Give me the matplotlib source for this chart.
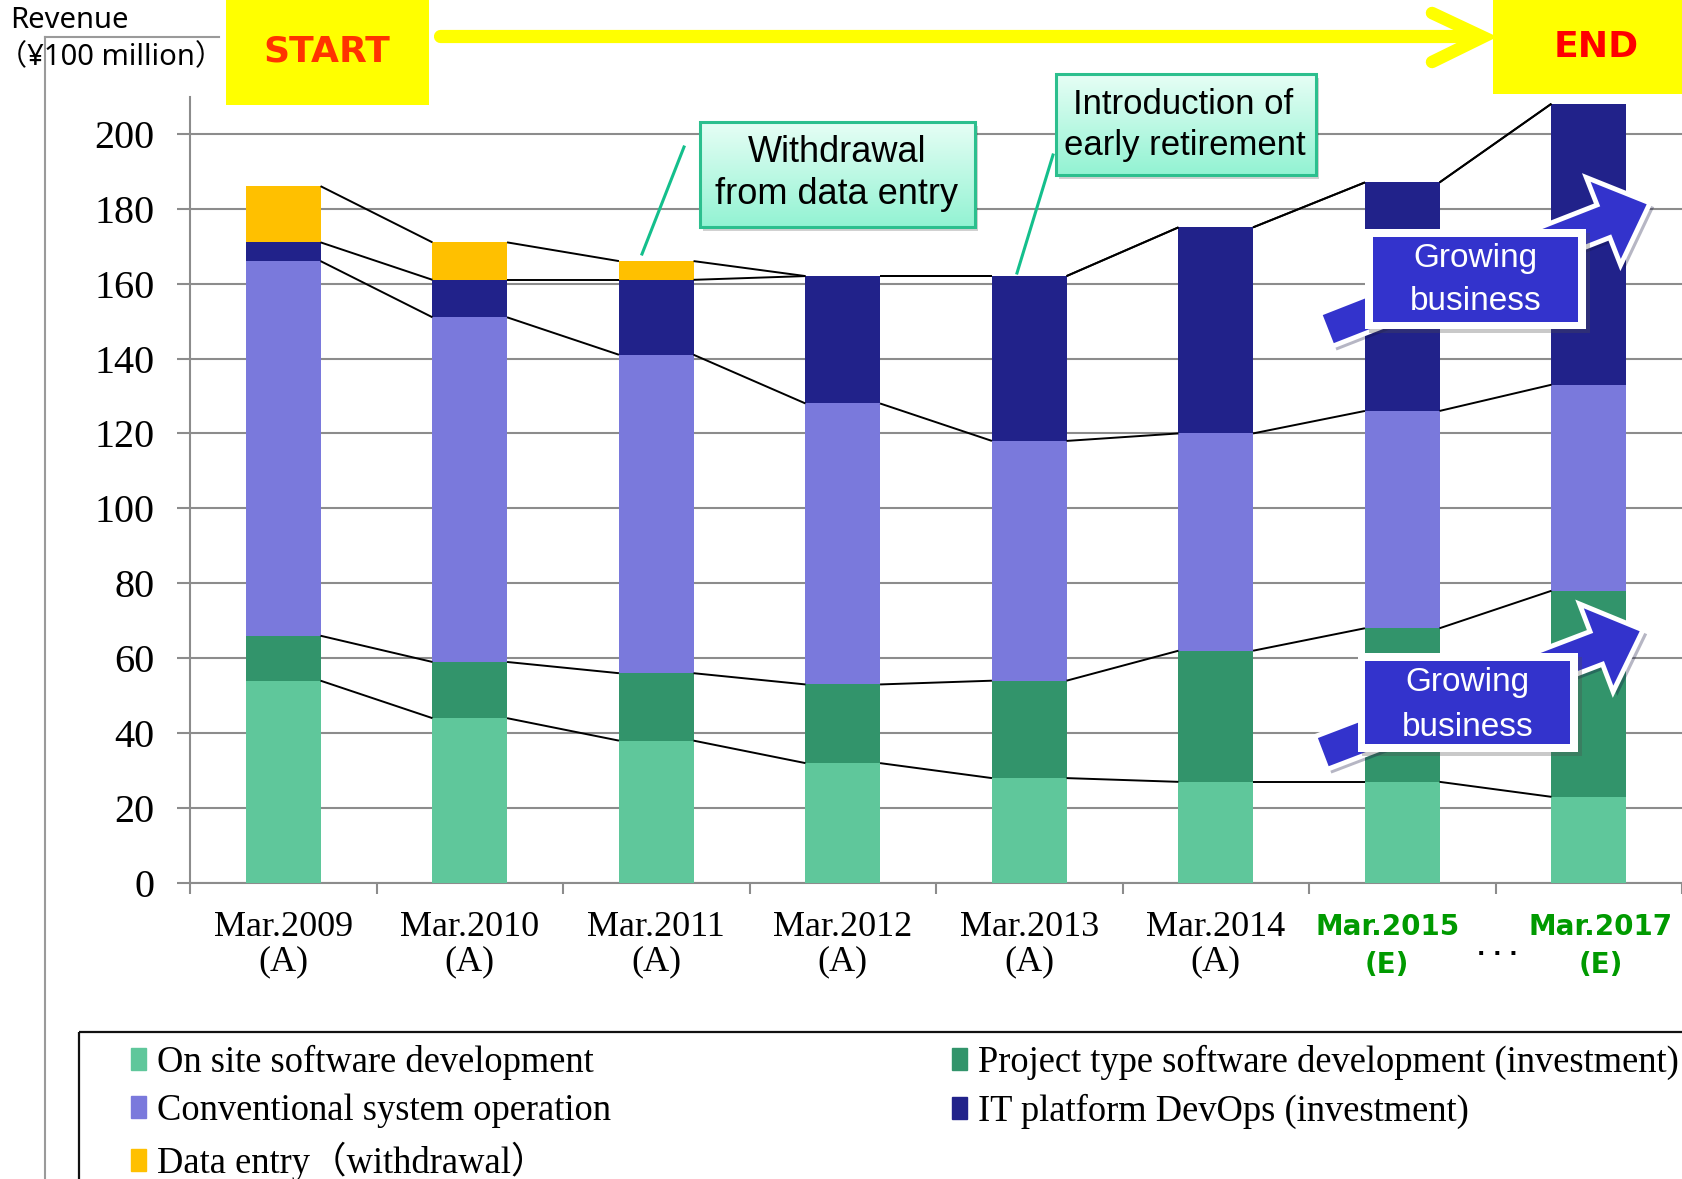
import numpy as np
import matplotlib
matplotlib.use("Agg")
import matplotlib.pyplot as plt
from matplotlib.patches import Rectangle, FancyArrow, Patch
from matplotlib.colors import LinearSegmentedColormap
from matplotlib import patheffects as pe
from matplotlib.transforms import ScaledTranslation

# ---- data (¥100 million) ----
periods = ["Mar.2009\n(A)", "Mar.2010\n(A)", "Mar.2011\n(A)", "Mar.2012\n(A)",
           "Mar.2013\n(A)", "Mar.2014\n(A)", "Mar.2015\n(E)", "Mar.2017\n(E)"]
onsite = [54, 44, 38, 32, 28, 27, 27, 23]
project = [12, 15, 18, 21, 26, 35, 41, 55]
conventional = [100, 92, 85, 75, 64, 58, 58, 55]
devops = [5, 10, 20, 34, 44, 55, 61, 75]
data_entry = [15, 10, 5, 0, 0, 0, 0, 0]
estimate = [False] * 6 + [True] * 2

series_names = ["On site software development",
                "Project type software development (investment)",
                "Conventional system operation",
                "IT platform DevOps (investment)",
                "Data entry（withdrawal）"]
series_colors = ["#5FC79B", "#32946B", "#7A79DC", "#21228A", "#FFC000"]

W, H = 1682, 1179
fig = plt.figure(figsize=(W / 100, H / 100), dpi=100)
ax = fig.add_axes([190 / W, 1 - 883 / H, (W - 190) / W, (883 - 97) / H])

x = np.arange(len(periods))
bw = 0.4
stack = [onsite, project, conventional, devops, data_entry]
bottom = np.zeros(len(periods))
levels = []
for vals, col in zip(stack, series_colors):
    vals = np.array(vals, dtype=float)
    ax.bar(x, vals, bw, bottom=bottom, color=col, linewidth=0, zorder=3)
    bottom = bottom + vals
    levels.append(bottom.copy())

# connector lines between bars
for lev in levels:
    for i in range(len(x) - 1):
        ax.plot([x[i] + bw / 2, x[i + 1] - bw / 2], [lev[i], lev[i + 1]],
                color="black", lw=1.4, zorder=4, solid_capstyle="butt")

grey = "#8C8C8C"
ax.set_xlim(-0.5, len(x) - 0.5)
ax.set_ylim(0, 209.8)
ax.set_yticks(np.arange(0, 201, 20))
ax.yaxis.grid(True, color=grey, lw=1.5)
ax.set_axisbelow(True)
for s in ["top", "right"]:
    ax.spines[s].set_visible(False)
for s in ["left", "bottom"]:
    ax.spines[s].set_color(grey)
    ax.spines[s].set_linewidth(1.5)
ax.tick_params(axis="y", direction="out", length=9.5, width=1.5, color=grey,
               pad=16, labelsize=29)
for lab in ax.get_yticklabels():
    lab.set_fontfamily("Liberation Serif")

ax.set_xticks(np.arange(-0.5, len(x)), minor=True)
ax.set_xticks(x)
ax.set_xticklabels(periods)
ax.tick_params(axis="x", which="major", length=0, pad=20)
ax.tick_params(axis="x", which="minor", direction="out", length=8, width=1.5, color=grey)
est_shift = {6: -15, 7: 12}
for i, (lab, est) in enumerate(zip(ax.get_xticklabels(), estimate)):
    if est:
        lab.set_fontfamily("DejaVu Sans")
        lab.set_fontweight("bold")
        lab.set_fontsize(20)
        lab.set_color("#009A00")
        lab.set_linespacing(1.45)
        lab.set_transform(lab.get_transform() +
                          ScaledTranslation(est_shift[i] / 100, -2 / 100, fig.dpi_scale_trans))
    else:
        lab.set_fontfamily("Liberation Serif")
        lab.set_fontsize(26)
        lab.set_linespacing(1.05)

# ---- overlay in pixel coordinates for decorations ----
ov = fig.add_axes([0, 0, 1, 1], zorder=10)
ov.set_xlim(0, W)
ov.set_ylim(H, 0)
ov.axis("off")
ov.patch.set_alpha(0)

# axis title + frame lines
ov.plot([45, 219], [37, 37], color="#9A9A9A", lw=1.5)
ov.plot([45, 45], [37, H], color="#9A9A9A", lw=1.5)
ov.text(10, 21, "Revenue", fontsize=21, family="Noto Sans", va="center", ha="left")
ov.text(-2, 58, "（¥100 million）", fontsize=21, family=["Noto Sans", "Noto Sans CJK JP"],
        va="center", ha="left")

# START / END boxes and yellow arrow
ov.add_patch(Rectangle((226, 0), 203, 105, color="#FFFF00", lw=0))
ov.text(327, 52, "START", color="#FF3300", fontsize=26, fontweight="bold",
        ha="center", va="center")
ov.add_patch(Rectangle((1493, 0), 189, 94, color="#FFFF00", lw=0))
ov.text(1596, 47, "END", color="#FF0000", fontsize=26, fontweight="bold",
        ha="center", va="center")
ov.plot([440, 1478], [35.5, 35.5], color="#FFFF00", lw=9.5, solid_capstyle="round")
ov.plot([1432, 1483, 1432], [13, 37, 62], color="#FFFF00", lw=9, solid_capstyle="round",
        solid_joinstyle="miter")

# callouts
mint = LinearSegmentedColormap.from_list("mint", ["#E6FEF5", "#93F3D3"])
grad = np.linspace(0, 1, 64).reshape(-1, 1)


def callout(x0, y0, x1, y1, lines, tip, base, size):
    ov.add_patch(Rectangle((x0 + 3, y0 + 4), x1 - x0, y1 - y0, color="#000000",
                           alpha=0.18, lw=0))
    ov.imshow(grad, cmap=mint, extent=(x0, x1, y1, y0), aspect="auto", zorder=2)
    ov.add_patch(Rectangle((x0, y0), x1 - x0, y1 - y0, fill=False, ec="#2CBF8E",
                           lw=2.2, zorder=3))
    for (tx, ty, t) in lines:
        ov.text(tx, ty, t, fontsize=size, family="Liberation Sans", ha="center",
                va="center", zorder=4)
    ov.plot([tip[0], base[0]], [tip[1], base[1]], color="#14BF8C", lw=2.2, zorder=3)


callout(700, 122, 975, 227,
        [(837, 153, "Withdrawal"), (837, 194, "from data entry")],
        (642, 254), (684, 147), 26)
callout(1056, 74, 1316, 175,
        [(1183, 105, "Introduction of"), (1185, 146, "early retirement")],
        (1017, 273), (1053, 155), 25)

# growing business arrows
shadow = [pe.withSimplePatchShadow(offset=(3, -3), alpha=0.3)]


def growing(tail, tip, box, inner, ytext):
    dx, dy = tip[0] - tail[0], tip[1] - tail[1]
    ov.add_patch(FancyArrow(tail[0], tail[1], dx, dy, width=35, head_width=94,
                            head_length=50, length_includes_head=True,
                            fc="#3333CC", ec="white", lw=3.5, zorder=5,
                            path_effects=shadow))
    ov.add_patch(Rectangle((box[0], box[1]), box[2] - box[0], box[3] - box[1],
                           fc="white", ec="white", lw=0, zorder=6, path_effects=shadow))
    ov.add_patch(Rectangle((inner[0], inner[1]), inner[2] - inner[0], inner[3] - inner[1],
                           fc="#3333CC", lw=0, zorder=7))
    cx = (inner[0] + inner[2]) / 2
    for ty, t in zip(ytext, ["Growing", "business"]):
        ov.text(cx, ty, t, color="white", fontsize=24, family="Liberation Sans",
                ha="center", va="center", zorder=8)


growing((1326, 330), (1650, 203), (1365, 229, 1586, 329), (1373, 237, 1578, 322), (258, 302))
growing((1321, 753), (1643, 630), (1358, 653, 1578, 752), (1365, 661, 1570, 744), (683, 727))

ov.text(1497, 955, ". . .", fontsize=16, fontweight="bold", ha="center", va="baseline")

# legend
ov.add_patch(Rectangle((79, 1032), 1700, 300, fill=False, ec="#111111", lw=1.6))
handles = [Patch(color=series_colors[i]) for i in [0, 2, 4, 1, 3]]
labels = [series_names[i] for i in [0, 2, 4, 1, 3]]
leg = fig.legend(handles, labels, loc="upper left", bbox_to_anchor=(131 / W, 1 - 1045 / H),
                 ncol=2, frameon=False, borderpad=0, borderaxespad=0,
                 handlelength=0.42, handleheight=0.55, handletextpad=0.3,
                 labelspacing=0.37, columnspacing=9.33,
                 prop={"family": ["Liberation Serif", "Noto Sans CJK JP"], "size": 26.3})

fig.savefig("out.png", dpi=100)
